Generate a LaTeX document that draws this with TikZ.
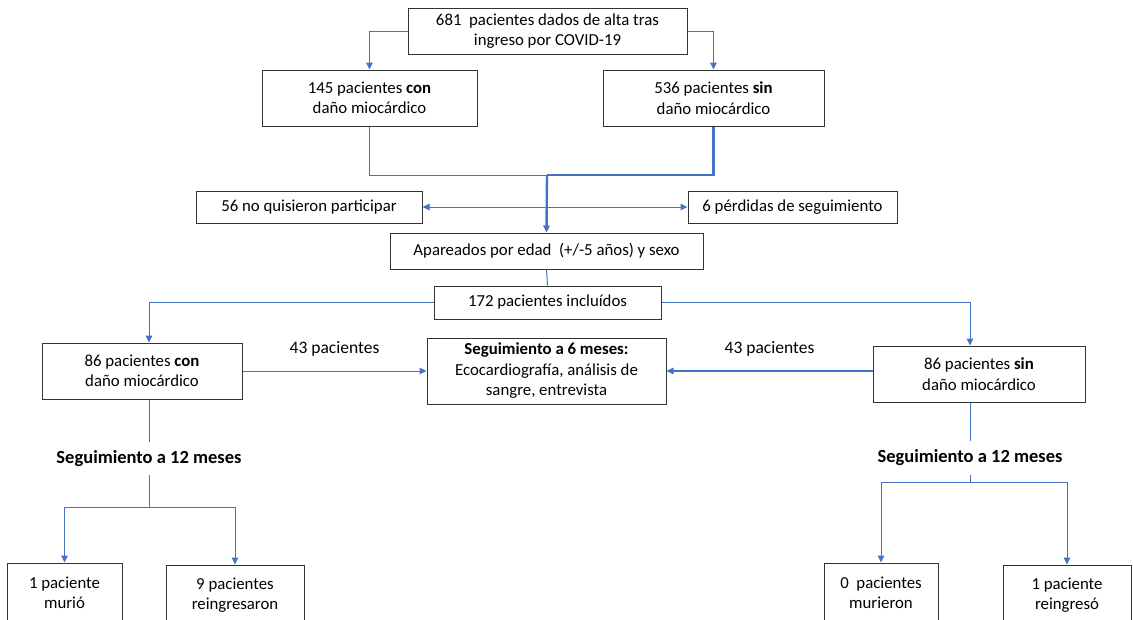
\documentclass[tikz,border=0pt]{standalone}
\usepackage{fontspec}
\setmainfont{Carlito}
\usepackage{xcolor}
\usepackage{tikz}
\usetikzlibrary{arrows.meta,positioning,calc}
\definecolor{cLink}{HTML}{4472C4}
\definecolor{cEdge}{HTML}{333333}
\tikzset{
  box/.style={draw=cEdge, line width=1pt, fill=white, text=black, align=center,
              font=\fontsize{16.8}{20.5}\selectfont, inner sep=3pt},
  flow/.style={-{Triangle[length=7pt,width=6.5pt]}, line width=1pt, draw=cLink},
  link/.style={line width=1pt, draw=cLink},
  mainlink/.style={line width=2.4pt, draw=cLink},
  mainflow/.style={-{Triangle[length=7pt,width=6.5pt]}, line width=2.4pt, draw=cLink},
  both/.style={{Triangle[length=7pt,width=6.5pt]}-{Triangle[length=7pt,width=6.5pt]}, line width=1pt, draw=cLink},
  lbl/.style={font=\fontsize{17.5}{20}\selectfont, inner sep=1pt},
  stage/.style={font=\fontsize{18.5}{20}\selectfont\bfseries, inner sep=0pt, minimum height=33pt},
}

\begin{document}
\begin{tikzpicture}[x=1pt, y=-1pt]
  \useasboundingbox (0,0) rectangle (1133,619);
  % boxes
  \node[box, minimum width=279pt, minimum height=46pt] (top) at (547.5,31) {681\ \ pacientes dados de alta tras\\ingreso por COVID-19};
  \node[box, minimum width=215pt, minimum height=56pt] (con) at (369.5,98) {145 pacientes \textbf{con}\\daño miocárdico};
  \node[box, minimum width=221pt, minimum height=56pt] (sin) at (713.5,98) {536 pacientes \textbf{sin}\\daño miocárdico};
  \node[box, minimum width=226pt, minimum height=32pt] (refuse) at (309,207) {56 no quisieron participar};
  \node[box, minimum width=209pt, minimum height=32pt] (lost) at (792.5,207) {6 pérdidas de seguimiento};
  \node[box, minimum width=313pt, minimum height=36pt] (match) at (546.5,251) {Apareados por edad\ \ (+/-5 años) y sexo};
  \node[box, minimum width=227pt, minimum height=33pt] (incl) at (547.5,302.5) {172 pacientes incluídos};
  \node[box, minimum width=200pt, minimum height=56pt] (con86) at (142,371) {86 pacientes \textbf{con}\\daño miocárdico};
  \node[box, minimum width=239pt, minimum height=66pt] (fu6) at (546.5,371) {\textbf{Seguimiento a 6 meses:}\\Ecocardiografía, análisis de\\sangre, entrevista};
  \node[box, minimum width=212pt, minimum height=56pt] (sin86) at (979,374) {86 pacientes \textbf{sin}\\daño miocárdico};
  \node[stage] (fuL) at (149,458.5) {Seguimiento a 12 meses};
  \node[stage] (fuR) at (970,458) {Seguimiento a 12 meses};
  \node[box, minimum width=115pt, minimum height=60pt] (diedL) at (64.5,593) {1 paciente\\murió};
  \node[box, minimum width=138pt, minimum height=60pt] (readmL) at (235,595) {9 pacientes\\reingresaron};
  \node[box, minimum width=114pt, minimum height=60pt] (diedR) at (881,593) {0\ \ pacientes\\murieron};
  \node[box, minimum width=128pt, minimum height=60pt] (readmR) at (1067,595) {1 paciente\\reingresó};
  % junctions
  \coordinate (join) at (547,175);
  \coordinate (splitL) at (149,507);
  \coordinate (splitR) at (970,482);
  % connectors
  \draw[flow] (top.west) -| (con.north);
  \draw[flow] (top.east) -| (sin.north);
  \draw[link] (con.south) |- (join);
  \draw[mainlink] (sin.south) |- (join);
  \draw[mainflow] (join) -- (match.north);
  \draw[both] (refuse.east) -- (lost.west);
  \draw[link] (match.south) -- (incl.north);
  \draw[flow] (incl.west) -| ([xshift=7pt]con86.north);
  \draw[flow] (incl.east) -| ([xshift=-9pt]sin86.north);
  \draw[flow] (con86.east) -- node[lbl, midway, above=13pt] {43 pacientes} (fu6.west);
  \draw[flow, line width=1.4pt] ([yshift=3pt]sin86.west) -- node[lbl, midway, above=13pt] {43 pacientes} (fu6.east);
  \draw[link] ([xshift=7pt]con86.south) -- (fuL.north);
  \draw[link] (fuL.south) -- (splitL);
  \draw[flow] (splitL) -| (diedL.north);
  \draw[flow] (splitL) -| (readmL.north);
  \draw[link] ([xshift=-9pt]sin86.south) -- (fuR.north);
  \draw[link] (fuR.south) -- (splitR);
  \draw[flow] (splitR) -| (diedR.north);
  \draw[flow] (splitR) -| (readmR.north);
\end{tikzpicture}
\end{document}
